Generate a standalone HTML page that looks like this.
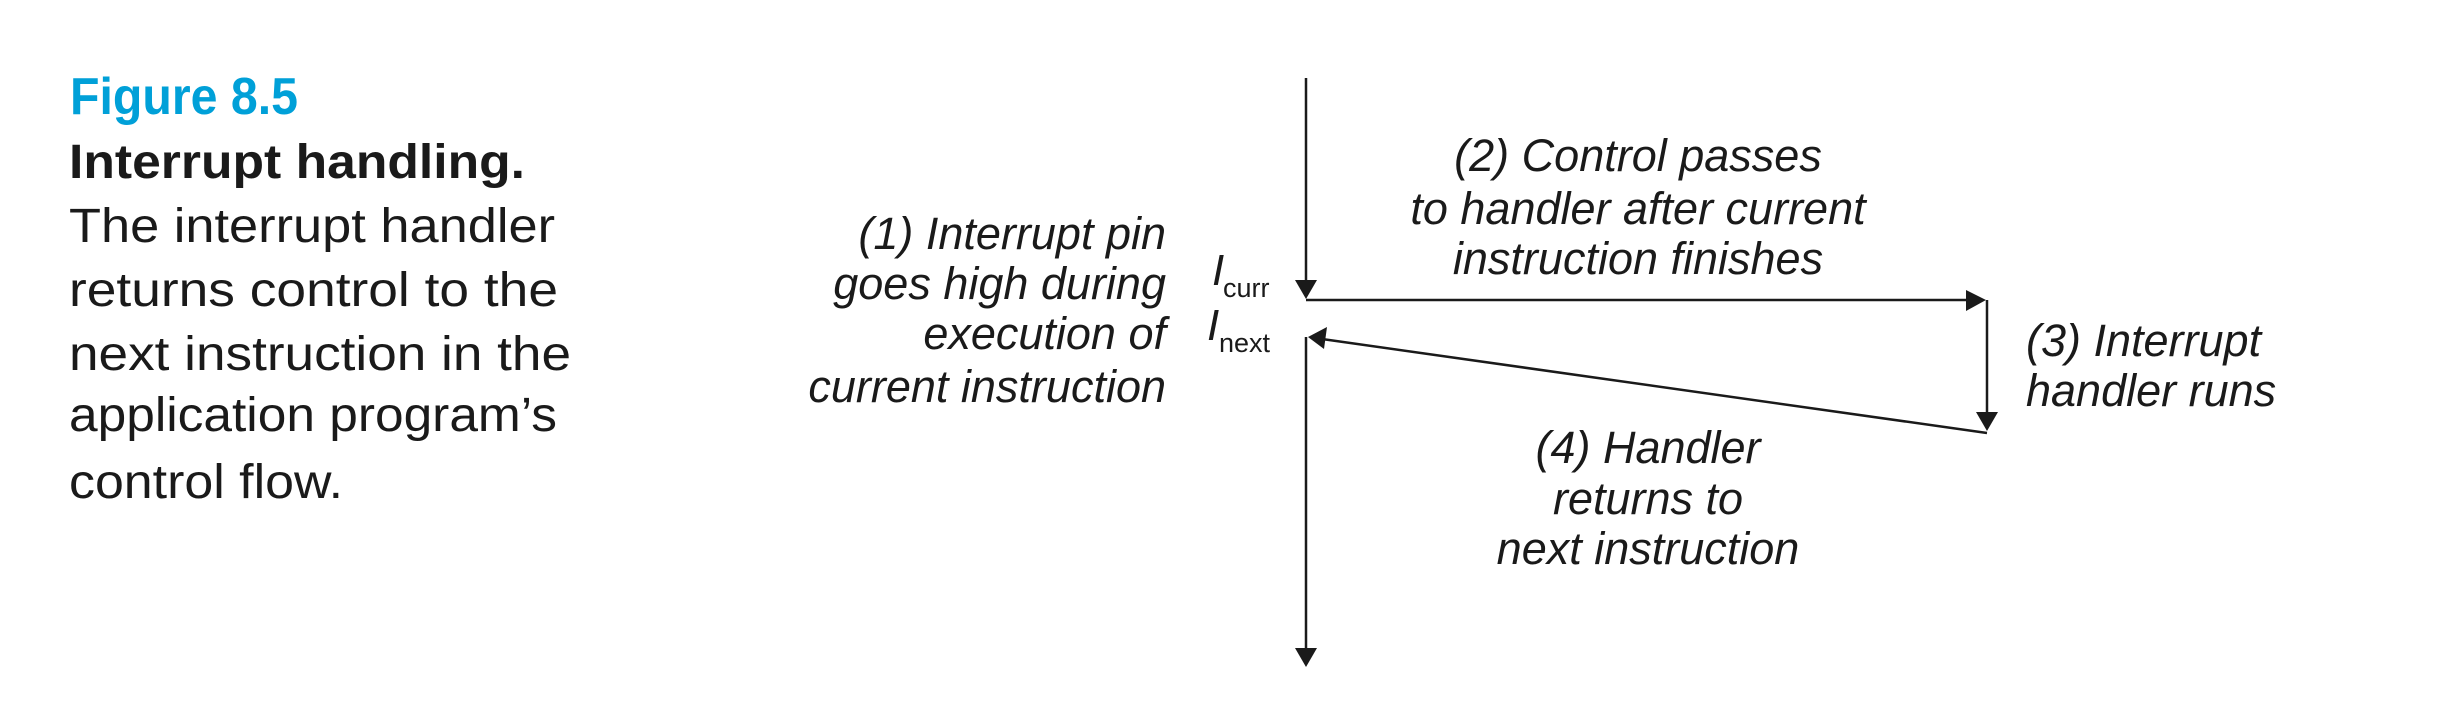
<!DOCTYPE html>
<html><head><meta charset="utf-8"><style>
html,body{margin:0;padding:0;background:#fff;width:2460px;height:716px;overflow:hidden}
svg{display:block}
.cap{font-family:"Liberation Sans",sans-serif;fill:#1a1a1a}
.it{font-family:"Liberation Sans",sans-serif;font-style:italic;fill:#1a1a1a;font-size:45px}
</style></head><body>
<svg width="2460" height="716" viewBox="0 0 2460 716" xmlns="http://www.w3.org/2000/svg">
<text x="70" y="114" font-family="Liberation Sans, sans-serif" font-weight="bold" font-size="52" fill="#00a0d8" textLength="228" lengthAdjust="spacingAndGlyphs">Figure 8.5</text>
<text class="cap" x="69" y="178" font-size="48" font-weight="bold" textLength="456" lengthAdjust="spacingAndGlyphs">Interrupt handling.</text>
<text class="cap" x="69" y="242" font-size="48" textLength="486" lengthAdjust="spacingAndGlyphs">The interrupt handler</text>
<text class="cap" x="69" y="306" font-size="48" textLength="489" lengthAdjust="spacingAndGlyphs">returns control to the</text>
<text class="cap" x="69" y="370" font-size="48" textLength="502" lengthAdjust="spacingAndGlyphs">next instruction in the</text>
<text class="cap" x="69" y="431" font-size="48" textLength="488" lengthAdjust="spacingAndGlyphs">application program’s</text>
<text class="cap" x="69" y="498" font-size="48" textLength="274" lengthAdjust="spacingAndGlyphs">control flow.</text>

<g class="it" text-anchor="end">
<text x="1166" y="249">(1) Interrupt pin</text>
<text x="1166" y="299">goes high during</text>
<text x="1166" y="349">execution of</text>
<text x="1166" y="402">current instruction</text>
</g>
<g class="it" text-anchor="middle">
<text x="1638" y="171">(2) Control passes</text>
<text x="1638" y="224">to handler after current</text>
<text x="1638" y="274">instruction finishes</text>
<text x="1648" y="463">(4) Handler</text>
<text x="1648" y="514">returns to</text>
<text x="1648" y="564">next instruction</text>
</g>
<g class="it">
<text x="2026" y="356">(3) Interrupt</text>
<text x="2026" y="406">handler runs</text>
</g>
<text x="1212" y="285" font-family="Liberation Sans, sans-serif" font-style="italic" font-size="44" fill="#1a1a1a">I</text>
<text x="1223" y="297" font-family="Liberation Sans, sans-serif" font-size="27" fill="#1a1a1a">curr</text>
<text x="1207" y="340" font-family="Liberation Sans, sans-serif" font-style="italic" font-size="44" fill="#1a1a1a">I</text>
<text x="1219" y="352" font-family="Liberation Sans, sans-serif" font-size="27" fill="#1a1a1a">next</text>

<g stroke="#1a1a1a" stroke-width="2.5" fill="none">
<line x1="1306" y1="78" x2="1306" y2="285"/>
<line x1="1306" y1="300" x2="1972" y2="300"/>
<line x1="1987" y1="300" x2="1987" y2="416"/>
<line x1="1987" y1="433" x2="1322" y2="339"/>
<line x1="1306" y1="337" x2="1306" y2="650"/>
</g>
<g fill="#1a1a1a">
<polygon points="1295,280 1317,280 1306,299"/>
<polygon points="1966,290 1966,311 1986,300"/>
<polygon points="1976,412 1998,412 1987,431"/>
<polygon points="1308,337 1327,327 1324,349"/>
<polygon points="1295,648 1317,648 1306,667"/>
</g>
</svg>
</body></html>
